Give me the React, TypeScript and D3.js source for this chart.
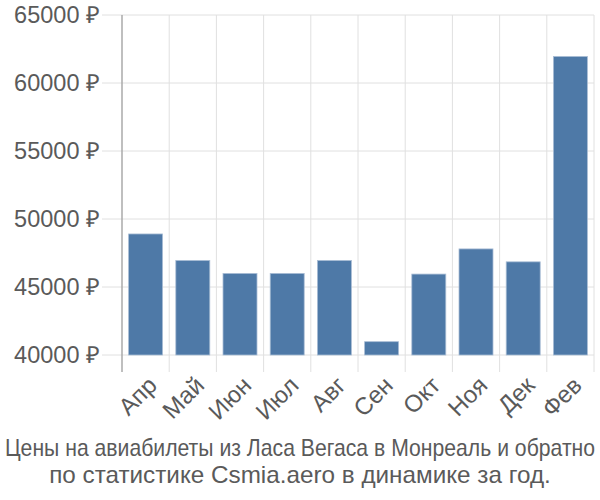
import React, { useLayoutEffect, useRef, useState } from "react";
import * as d3 from "d3";

const categories = ["Апр", "Май", "Июн", "Июл", "Авг", "Сен", "Окт", "Ноя", "Дек", "Фев"];
const values = [48900, 46950, 46000, 46000, 46950, 40980, 45950, 47800, 46850, 61950];
const yTicks = [40000, 45000, 50000, 55000, 60000, 65000];
const titleLines = [
  "Цены на авиабилеты из Ласа Вегаса в Монреаль и обратно",
  "по статистике Csmia.aero в динамике за год.",
];
const titleWidths = [590, 502];

export default function App() {
  const W = 600, H = 500;
  const left = 122, right = 594, top = 15, bottom = 355;
  const x = d3.scaleBand<string>().domain(categories).range([left, right]).paddingInner(0.28).paddingOuter(0.14);
  const y = d3.scaleLinear().domain([40000, 65000]).range([bottom, top]);
  const step = x.step();
  const boundaries = d3.range(categories.length + 1).map((i) => left + i * step);
  const grid = "#e0e0e0";
  const textColor = "#5a5a5a";
  const titleRefs = useRef<(SVGTextElement | null)[]>([]);
  const [scales, setScales] = useState<number[]>([0.88, 0.88]);
  useLayoutEffect(() => {
    const s = titleRefs.current.map((el, i) => {
      if (!el) return 0.88;
      const w = el.getComputedTextLength();
      return w > 0 ? titleWidths[i] / w : 0.88;
    });
    setScales(s);
  }, []);
  return (
    <svg width={W} height={H} style={{ position: "absolute", left: 0, top: 0 }}>
      <rect width={W} height={H} fill="#fff" />
      {yTicks.map((t) => (
        <g key={t}>
          <line x1={102} x2={right} y1={y(t)} y2={y(t)} stroke={grid} strokeWidth={1} />
          <text x={100} y={y(t)} dy="0.35em" textAnchor="end" fontFamily="Liberation Sans, Arial, sans-serif" fontSize={23.5} fill={textColor}>
            {t} ₽
          </text>
        </g>
      ))}
      {boundaries.map((b, i) => (
        <line key={i} x1={b} x2={b} y1={top} y2={bottom + 17} stroke={i === 0 ? "#aaa" : grid} strokeWidth={i === 0 ? 1.5 : 1} />
      ))}
      {categories.map((c, i) => (
        <rect key={c} x={x(c)} y={y(values[i])} width={x.bandwidth()} height={bottom - y(values[i])} fill="#4e79a7" stroke="#a9bdd5" strokeWidth={0.8} />
      ))}
      {categories.map((c) => {
        const cx = (x(c) as number) + x.bandwidth() / 2 + 1;
        const cy = bottom + 20;
        return (
          <text key={c} transform={`translate(${cx},${cy}) rotate(-45)`} textAnchor="end" dy="0.7em" fontFamily="Liberation Sans, Arial, sans-serif" fontSize={24} fill={textColor}>
            {c}
          </text>
        );
      })}
      {titleLines.map((l, i) => (
        <g key={i} transform={`translate(300,${456 + i * 26.5}) scale(${scales[i]},1)`}>
          <text ref={(el) => { titleRefs.current[i] = el; }} x={0} y={0} textAnchor="middle" fontFamily="Liberation Sans, Arial, sans-serif" fontSize={23} fill={textColor}>
            {l}
          </text>
        </g>
      ))}
    </svg>
  );
}
